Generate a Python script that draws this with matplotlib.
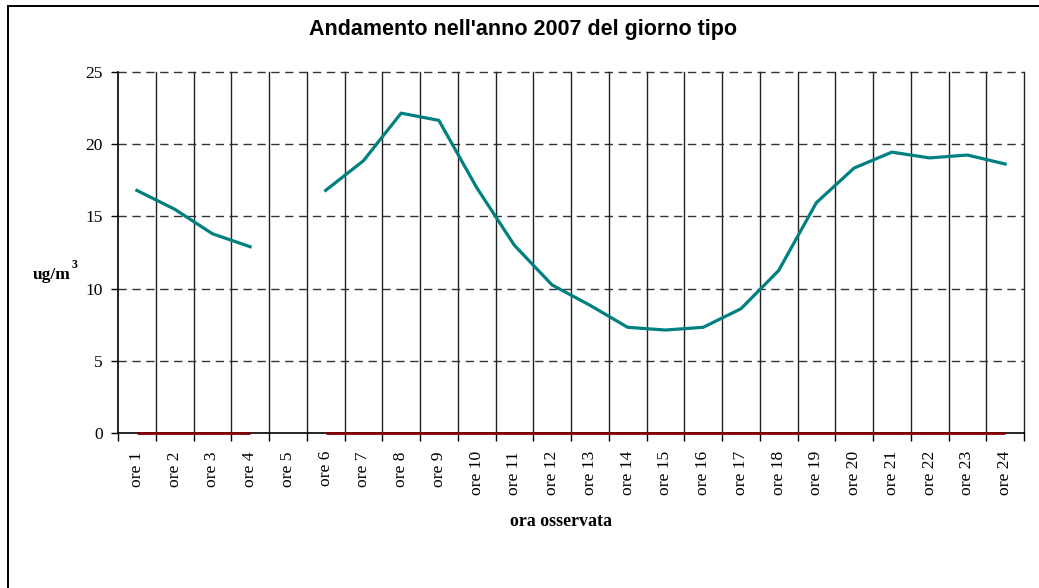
import numpy as np
import matplotlib.pyplot as plt
from matplotlib.patches import Rectangle
from matplotlib.ticker import FixedLocator, NullFormatter

# hours on the x axis
hours = [f'ore {i}' for i in range(1, 25)]

# hourly mean for 2007 (ore 5 missing)
media = [16.8, 15.5, 13.8, 12.9, np.nan, 16.8, 18.85, 22.15, 21.65, 17.0,
         13.0, 10.25, 8.85, 7.32, 7.13, 7.32, 8.6, 11.25, 15.95, 18.35,
         19.45, 19.05, 19.25, 18.63]
# second series sitting on zero (also missing at ore 5)
zero_series = [0, 0, 0, 0, np.nan, 0, 0, 0, 0, 0, 0, 0,
               0, 0, 0, 0, 0, 0, 0, 0, 0, 0, 0, 0]

yticks = [0, 5, 10, 15, 20, 25]

W, H = 1039, 588
fig = plt.figure(figsize=(W / 100, H / 100), dpi=100)
ax = fig.add_axes([118 / W, 1 - 433 / H, (1024 - 118) / W, (433 - 72) / H])

x = np.arange(len(hours))
ax.plot(x, zero_series, color='#800000', lw=2.0, zorder=5, clip_on=False,
        solid_capstyle='butt')
ax.plot(x, media, color='#008080', lw=2.3, zorder=6)

ax.set_xlim(-0.5, len(hours) - 0.5)
ax.set_ylim(0, 25)

# horizontal dashed gridlines
ax.set_yticks(yticks)
ax.set_yticklabels([str(v) for v in yticks], family='Liberation Serif', fontsize=12.5)
for v in yticks[1:]:
    ax.axhline(v, color='#333333', lw=1.0, ls=(0, (6, 4)), zorder=1, clip_on=False)

# vertical solid gridlines at category boundaries
bounds = np.arange(-0.5, len(hours), 1.0)
for b in bounds[1:]:
    ax.axvline(b, color='#222222', lw=1.0, zorder=1, clip_on=False)

ax.xaxis.set_major_locator(FixedLocator(bounds))
ax.xaxis.set_major_formatter(NullFormatter())
ax.xaxis.set_minor_locator(FixedLocator(x))
ax.set_xticklabels(hours, minor=True, rotation=90, family='Liberation Serif', fontsize=12.6)
ax.tick_params(axis='x', which='major', length=6, width=1, color='black', direction='out')
ax.tick_params(axis='x', which='minor', length=0, pad=13)
ax.tick_params(axis='y', length=5, width=1, direction='out', pad=6)

for side in ['top', 'right']:
    ax.spines[side].set_visible(False)
ax.spines['left'].set_linewidth(1.2)
ax.spines['bottom'].set_linewidth(1.2)

fig.text(561 / W, 1 - 522 / H, 'ora osservata', family='Liberation Serif',
         fontweight='bold', fontsize=12.9, ha='center', va='center')

fig.text(33 / W, 1 - 275 / H, 'ug/m', family='Liberation Serif',
         fontweight='bold', fontsize=12.5, ha='left', va='center')
fig.text(72 / W, 1 - 265 / H, '3', family='Liberation Serif',
         fontweight='bold', fontsize=8.5, ha='left', va='center')

fig.text(523 / W, 1 - 29 / H, "Andamento nell'anno 2007 del giorno tipo",
         family='Liberation Sans', fontweight='bold', fontsize=15.5,
         ha='center', va='center')

# outer chart frame
fig.patches.append(Rectangle((8 / W, -0.1), 1.2, 1 - 6 / H + 0.1, transform=fig.transFigure,
                             fill=False, edgecolor='black', lw=1.4))

fig.savefig('out.png', dpi=100)
